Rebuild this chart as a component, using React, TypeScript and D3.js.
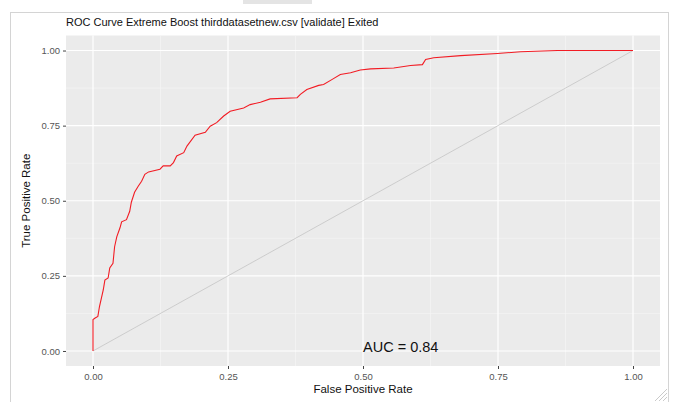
import * as d3 from "d3";
import { useEffect, useRef } from "react";

const fprValues = [
  0, 0, 0.004, 0.009, 0.012, 0.019, 0.022, 0.028, 0.031, 0.037, 0.04, 0.044, 0.05, 0.053, 0.062, 0.068,
  0.071, 0.077, 0.084, 0.09, 0.096, 0.103, 0.124, 0.13, 0.143, 0.149, 0.155, 0.168, 0.174, 0.189, 0.208,
  0.217, 0.229, 0.242, 0.254, 0.279, 0.291, 0.31, 0.328, 0.378, 0.384, 0.396, 0.418, 0.427, 0.443, 0.458,
  0.477, 0.495, 0.514, 0.557, 0.588, 0.61, 0.616, 0.631, 0.681, 0.749, 0.792, 0.86, 1,
];
const tprValues = [
  0, 0.105, 0.11, 0.115, 0.148, 0.203, 0.236, 0.243, 0.276, 0.292, 0.347, 0.38, 0.41, 0.43, 0.437, 0.465,
  0.495, 0.528, 0.549, 0.565, 0.588, 0.596, 0.605, 0.616, 0.616, 0.627, 0.649, 0.66, 0.682, 0.718, 0.728,
  0.748, 0.76, 0.782, 0.798, 0.809, 0.82, 0.828, 0.839, 0.843, 0.854, 0.87, 0.884, 0.887, 0.904, 0.92,
  0.926, 0.935, 0.939, 0.942, 0.95, 0.953, 0.97, 0.976, 0.983, 0.99, 0.996, 1, 1,
];
const majorTicks = [0, 0.25, 0.5, 0.75, 1];
const minorTicks = [0.125, 0.375, 0.625, 0.875];
const chartTitle = "ROC Curve Extreme Boost thirddatasetnew.csv [validate] Exited";
const aucLabel = "AUC = 0.84";

const WIDTH = 676;
const HEIGHT = 402;
const FONT = "'Liberation Sans', Arial, sans-serif";

const drawChart = (svgElement: SVGSVGElement) => {
  const svg = d3.select(svgElement);
  svg.selectAll("*").remove();
  svg.attr("width", WIDTH).attr("height", HEIGHT);

  // window chrome around the plot
  svg.append("rect").attr("width", WIDTH).attr("height", HEIGHT).attr("fill", "white");
  svg.append("rect").attr("x", 243).attr("y", 0).attr("width", 69).attr("height", 4).attr("fill", "#e4e4e4");
  svg
    .append("rect")
    .attr("x", 10.5)
    .attr("y", 12.5)
    .attr("width", 658)
    .attr("height", 400)
    .attr("fill", "white")
    .attr("stroke", "#d4d4d4");

  const panel = { left: 66, right: 660, top: 35.5, bottom: 366 };
  const xScale = d3
    .scaleLinear()
    .domain([-0.05, 1.05])
    .range([panel.left, panel.right]);
  const yScale = d3
    .scaleLinear()
    .domain([-0.05, 1.05])
    .range([panel.bottom, panel.top]);

  svg
    .append("text")
    .attr("x", panel.left)
    .attr("y", 26)
    .style("font-family", FONT)
    .style("font-size", "11px")
    .attr("fill", "#111")
    .text(chartTitle);

  svg
    .append("rect")
    .attr("x", panel.left)
    .attr("y", panel.top)
    .attr("width", panel.right - panel.left)
    .attr("height", panel.bottom - panel.top)
    .attr("fill", "#ebebeb");

  const grid = svg.append("g");
  grid
    .selectAll("line.minor-x")
    .data(minorTicks)
    .join("line")
    .attr("x1", (d) => xScale(d))
    .attr("x2", (d) => xScale(d))
    .attr("y1", panel.top)
    .attr("y2", panel.bottom)
    .attr("stroke", "#f7f7f7")
    .attr("stroke-width", 0.6);
  grid
    .selectAll("line.minor-y")
    .data(minorTicks)
    .join("line")
    .attr("y1", (d) => yScale(d))
    .attr("y2", (d) => yScale(d))
    .attr("x1", panel.left)
    .attr("x2", panel.right)
    .attr("stroke", "#f7f7f7")
    .attr("stroke-width", 0.6);
  grid
    .selectAll("line.major-x")
    .data(majorTicks)
    .join("line")
    .attr("x1", (d) => xScale(d))
    .attr("x2", (d) => xScale(d))
    .attr("y1", panel.top)
    .attr("y2", panel.bottom)
    .attr("stroke", "white")
    .attr("stroke-width", 1.2);
  grid
    .selectAll("line.major-y")
    .data(majorTicks)
    .join("line")
    .attr("y1", (d) => yScale(d))
    .attr("y2", (d) => yScale(d))
    .attr("x1", panel.left)
    .attr("x2", panel.right)
    .attr("stroke", "white")
    .attr("stroke-width", 1.2);

  // diagonal reference line
  svg
    .append("line")
    .attr("x1", xScale(0))
    .attr("y1", yScale(0))
    .attr("x2", xScale(1))
    .attr("y2", yScale(1))
    .attr("stroke", "#c4c4c4")
    .attr("stroke-width", 0.8);

  const points = fprValues.map((fpr, i) => [fpr, tprValues[i]] as [number, number]);
  const line = d3
    .line<[number, number]>()
    .x((d) => xScale(d[0]))
    .y((d) => yScale(d[1]));
  svg
    .append("path")
    .datum(points)
    .attr("d", line)
    .attr("fill", "none")
    .attr("stroke", "#f21c24")
    .attr("stroke-width", 1.1);

  const xAxis = svg
    .append("g")
    .attr("transform", `translate(0,${panel.bottom})`)
    .call(d3.axisBottom(xScale).tickValues(majorTicks).tickFormat(d3.format(".2f")).tickSize(3).tickPadding(4));
  xAxis.select(".domain").remove();
  const yAxis = svg
    .append("g")
    .attr("transform", `translate(${panel.left},0)`)
    .call(d3.axisLeft(yScale).tickValues(majorTicks).tickFormat(d3.format(".2f")).tickSize(3).tickPadding(3));
  yAxis.select(".domain").remove();
  [xAxis, yAxis].forEach((axis) => {
    axis.selectAll("line").attr("stroke", "#444");
    axis
      .selectAll("text")
      .attr("fill", "#555")
      .style("font-family", FONT)
      .style("font-size", "9.5px");
  });

  svg
    .append("text")
    .attr("x", (panel.left + panel.right) / 2)
    .attr("y", 393)
    .attr("text-anchor", "middle")
    .style("font-family", FONT)
    .style("font-size", "11.5px")
    .attr("fill", "#111")
    .text("False Positive Rate");

  svg
    .append("text")
    .attr("transform", "rotate(-90)")
    .attr("x", -(panel.top + panel.bottom) / 2)
    .attr("y", 30)
    .attr("text-anchor", "middle")
    .style("font-family", FONT)
    .style("font-size", "11.5px")
    .attr("fill", "#111")
    .text("True Positive Rate");

  svg
    .append("text")
    .attr("x", xScale(0.5))
    .attr("y", yScale(0.015))
    .attr("dy", "0.35em")
    .style("font-family", FONT)
    .style("font-size", "14.5px")
    .attr("fill", "#111")
    .text(aucLabel);

  // resize grip
  const grip = svg.append("g").attr("stroke", "#bdbdbd").attr("stroke-width", 0.8);
  [4, 8, 12].forEach((offset) => {
    grip
      .append("line")
      .attr("x1", 667 - offset)
      .attr("y1", 401)
      .attr("x2", 667)
      .attr("y2", 401 - offset);
  });
};

const App = () => {
  const svgRef = useRef<SVGSVGElement | null>(null);

  useEffect(() => {
    if (!svgRef.current) return;
    drawChart(svgRef.current);
  }, []);

  return (
    <div style={{ position: "absolute", left: 0, top: 0, width: WIDTH, height: HEIGHT, overflow: "hidden" }}>
      <svg ref={svgRef} style={{ display: "block" }} />
    </div>
  );
};

export default App;
